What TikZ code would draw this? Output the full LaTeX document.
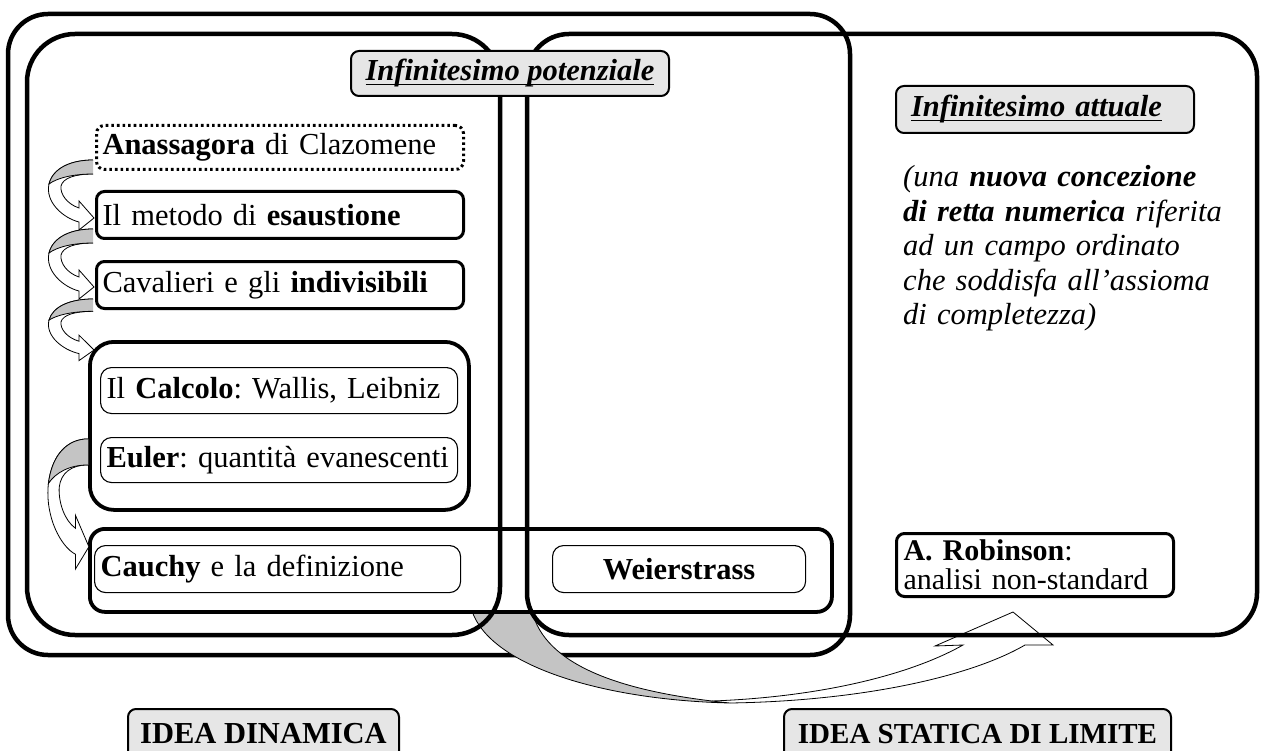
\documentclass[tikz,border=0pt]{standalone}
\usepackage{fontspec}
\setmainfont{Liberation Serif}
\usetikzlibrary{calc}
\definecolor{labgray}{HTML}{E6E6E6}
\definecolor{arrgray}{HTML}{C4C4C4}
\newcommand{\bodyf}{\fontsize{30.5}{33}\selectfont}
\newcommand{\ulbox}[1]{\setbox0\hbox{#1}\rlap{\rule[-4.5pt]{\wd0}{1.8pt}}\box0}
\frenchspacing
\begin{document}
\begin{tikzpicture}[x=1pt,y=-1pt,
  cont/.style={draw, line width=4.5pt},
  midcont/.style={draw, line width=3.8pt, anchor=north west, inner sep=0pt},
  tbox/.style={draw, line width=3pt, rounded corners=8pt, anchor=north west, inner xsep=6pt, inner ysep=0pt, align=left, font=\bodyf},
  dotbox/.style={dash pattern=on 2.6pt off 3pt},
  thinbox/.style={draw, line width=1.1pt, rounded corners=11pt, anchor=north west, inner xsep=6pt, inner ysep=0pt, align=left, font=\bodyf},
  labelbox/.style={draw, line width=2pt, rounded corners=8pt, fill=labgray, anchor=north west, inner xsep=0pt, inner ysep=0pt, font=\bodyf},
  arrline/.style={draw=black, line width=0.8pt},
  curvarr/.pic={
    \path[arrline, fill=white] (0,0) .. controls (-22,0) and (-40,8) .. (-44,24)
      .. controls (-48,42) and (-30,58) .. (-14,62) -- (-14,70) -- (1,58) -- (-14,41) -- (-14,48)
      .. controls (-26,44) and (-33,34) .. (-32,26) .. controls (-30,18) and (-18,14) .. (0,14);
    \path[arrline, fill=arrgray] (0,0) .. controls (-22,0) and (-40,8) .. (-44,24)
      .. controls (-36,18) and (-20,14) .. (0,14);
  }
]
\useasboundingbox (0,0) rectangle (1265,751);
\fill[white] (0,0) rectangle (1265,751);

% outer left container
\draw[cont, rounded corners=40pt] (8,14) rectangle (850,655);

% big curved arrow (dynamic -> static)
\coordinate (bigA) at (472,611);
\coordinate (bigB) at (532,611);
\path[arrline, fill=white] (712,701) .. controls (820,697) and (910,675) .. (963,645)
   -- (935,646) -- (1013,612) -- (1053,645) -- (1025,645)
   .. controls (970,677) and (860,701) .. (730,703);
\path[arrline, fill=arrgray] (bigA) .. controls (490,665) and (600,700) .. (730,703)
   .. controls (620,692) and (545,665) .. (bigB);

% inner containers
\draw[cont, rounded corners=48pt] (27,34) rectangle (500,635);
\draw[cont, rounded corners=42pt] (527,34) rectangle (1257,635);
\node[midcont, rounded corners=15pt, minimum width=742pt, minimum height=83pt] (E) at (88,527) {};
\node[midcont, rounded corners=24pt, minimum width=379pt, minimum height=168pt] (F) at (88,340) {};

% boxes
\node[tbox, dotbox, text width=355pt, minimum height=44pt] (anass) at (95,124) {\textbf{Anassagora} di Clazomene};
\node[tbox, text width=355pt, minimum height=47pt] (metodo) at (95,190) {Il metodo di \textbf{esaustione}};
\node[tbox, text width=355pt, minimum height=47pt] (cav) at (95,260) {Cavalieri e gli \textbf{indivisibili}};
\node[thinbox, text width=345pt, minimum height=46pt] (calc) at (100,367) {Il \textbf{Calcolo}: Wallis, Leibniz};
\node[thinbox, text width=345pt, minimum height=45pt] (euler) at (100,437) {\textbf{Euler}: quantità evanescenti};
\node[thinbox, text width=354pt, minimum height=47pt] (cauchy) at (94,545) {\textbf{Cauchy} e la definizione};
\node[thinbox, text width=241pt, minimum height=47pt, align=center] (weier) at (552,545) {\textbf{Weierstrass}};
\node[tbox, inner xsep=7pt, text width=263pt, minimum height=63pt, font=\fontsize{30}{29}\selectfont] (robin) at (895,532) {\textbf{A. Robinson}:\\analisi non-standard};

% small curved arrows
\pic at ($(anass.south west)+(-2,-11)$) {curvarr};
\pic at ($(metodo.south west)+(-2,-11)$) {curvarr};
\pic[yscale=0.88] at ($(cav.south west)+(-2,-11)$) {curvarr};
\pic[yscale=1.86, xscale=0.9] at ($(F.west)+(0,13)$) {curvarr};

% labels
\node[labelbox, minimum width=318pt, minimum height=45pt] (potenz) at (350,50) {\ulbox{\textbf{\textit{Infinitesimo potenziale}}}};
\node[labelbox, inner xsep=15pt, text width=268pt, align=left, minimum height=47pt] (attuale) at (895,85) {\ulbox{\textbf{\textit{Infinitesimo attuale}}}};
\node[anchor=base west, inner sep=0pt, text width=350pt, align=left, font=\fontsize{30.5}{34.5}\selectfont\itshape] (desc) at (903,187)
  {(una \textbf{nuova concezione}\\\textbf{di retta numerica} riferita\\ad un campo ordinato\\che soddisfa all’assioma\\di completezza)};
\node[labelbox, minimum width=271pt, minimum height=50pt] (dinam) at (127,708) {\textbf{IDEA DINAMICA}};
\node[labelbox, minimum width=387pt, minimum height=50pt, font=\fontsize{29}{32}\selectfont] (statica) at (783,708) {\textbf{IDEA STATICA DI LIMITE}};
\end{tikzpicture}
\end{document}
